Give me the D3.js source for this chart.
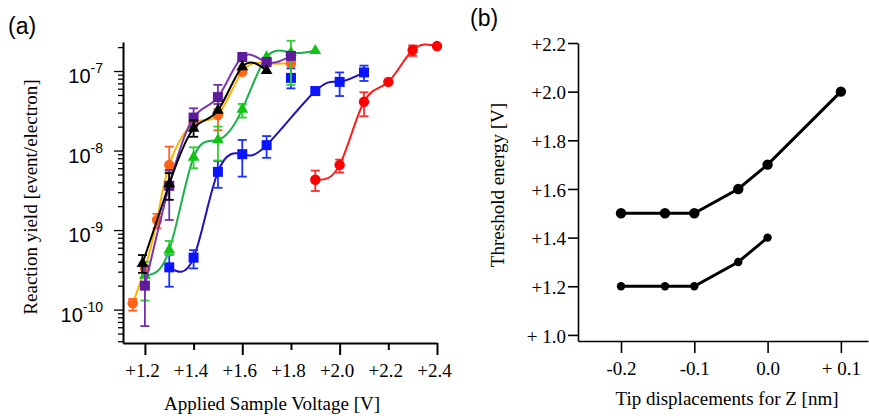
<!DOCTYPE html>
<html>
<head>
<meta charset="utf-8">
<script src="https://d3js.org/d3.v7.min.js"></script>
<style>
body { margin: 0; background: #fff; }
.serif { font-family: "Liberation Serif", "Times New Roman", serif; font-size: 19px; fill: #000; }
.sans { font-family: "Liberation Sans", Arial, sans-serif; fill: #000; }
.axis text { font-family: "Liberation Serif", "Times New Roman", serif; font-size: 19px; fill: #000; }
.axis line, .axis path { stroke: #000; }
</style>
</head>
<body>
<div id="fig"></div>
<script>
// panel (a): applied sample voltage [V] -> reaction yield [event/electron]
// lo/hi = error bar ends, null where no bar is visible
const redV  = [1.9, 2.0, 2.1, 2.2, 2.3, 2.4];
const redY  = [4.3e-9, 6.6e-9, 4.1e-8, 7.3e-8, 1.84e-7, 2.06e-7];
const redLo = [3.1e-9, 5.3e-9, 2.7e-8, null, 1.55e-7, null];
const redHi = [5.6e-9, 7.7e-9, 5.4e-8, null, 2.1e-7, null];

const blueV  = [1.3, 1.4, 1.5, 1.6, 1.7, 1.8, 1.9, 2.0, 2.1];
const blueY  = [3.4e-10, 4.5e-10, 5.4e-9, 9.0e-9, 1.17e-8, 8.2e-8, 5.6e-8, 7.3e-8, 9.6e-8];
const blueLo = [1.94e-10, 3.3e-10, 3.4e-9, 4.7e-9, 8.1e-9, 6.05e-8, null, 4.85e-8, 7.5e-8];
const blueHi = [4.9e-10, 5.6e-10, 7.4e-9, 1.36e-8, 1.52e-8, 1.08e-7, null, 9.6e-8, 1.17e-7];
const blueOnCurve = [true, true, true, true, true, false, true, true, true];

const orangeV  = [1.15, 1.2, 1.25, 1.3, 1.4, 1.5, 1.6, 1.7, 1.8];
const orangeY  = [1.2e-10, 3.3e-10, 1.34e-9, 6.6e-9, 2.2e-8, 2.8e-8, 9.8e-8, 1.25e-7, 1.25e-7];
const orangeLo = [9.7e-11, null, 1.05e-9, 5.5e-9, null, 1.8e-8, 7.1e-8, null, null];
const orangeHi = [1.36e-10, null, 1.6e-9, 1.12e-8, null, 3.3e-8, null, null, null];

const greenV  = [1.2, 1.3, 1.4, 1.5, 1.6, 1.7, 1.8, 1.9];
const greenY  = [2.7e-10, 5.6e-10, 8.2e-9, 1.36e-8, 3.3e-8, 1.5e-7, 1.7e-7, 1.8e-7];
const greenLo = [1.3e-10, 4.85e-10, 6.0e-9, 7.5e-9, 2.6e-8, null, 6.7e-8, null];
const greenHi = [4.0e-10, 7.3e-10, 1.1e-8, 2.0e-8, 3.85e-8, null, 2.4e-7, null];

const purpleV  = [1.2, 1.3, 1.4, 1.5, 1.6, 1.7, 1.8];
const purpleY  = [2.0e-10, 3.6e-9, 2.6e-8, 4.7e-8, 1.5e-7, 1.3e-7, 1.55e-7];
const purpleLo = [6.2e-11, 1.34e-9, 2.0e-8, 3.85e-8, null, null, null];
const purpleHi = [3.5e-10, 5.7e-9, 3.4e-8, 6.7e-8, null, null, null];

const blackV  = [1.19, 1.3, 1.4, 1.5, 1.6, 1.7];
const blackY  = [3.8e-10, 3.8e-9, 1.9e-8, 3.2e-8, 1.13e-7, 1.01e-7];
const blackLo = [2.9e-10, 2.4e-9, 1.49e-8, 2.35e-8, null, null];
const blackHi = [4.85e-10, 5.2e-9, 2.4e-8, null, null, null];

const voltTicks = [1.2, 1.4, 1.6, 1.8, 2.0, 2.2, 2.4];
const decades = [-10, -9, -8, -7];

// panel (b): tip displacement [nm] -> threshold energy [V]
const zUpper = [-0.2, -0.14, -0.1, -0.04, 0.0, 0.1];
const eUpper = [1.5, 1.5, 1.5, 1.6, 1.7, 2.0];
const zLower = [-0.2, -0.14, -0.1, -0.04, 0.0];
const eLower = [1.2, 1.2, 1.2, 1.3, 1.4];
const zTicks = [-0.2, -0.1, 0.0, 0.1];
const zTickLabels = ["-0.2", "-0.1", "0.0", "+ 0.1"];
const eTicks = [1.0, 1.2, 1.4, 1.6, 1.8, 2.0, 2.2];
const eTickLabels = ["+ 1.0", "+1.2", "+1.4", "+1.6", "+1.8", "+2.0", "+2.2"];

const svg = d3.select("#fig").append("svg")
  .attr("width", 869).attr("height", 416);

// ---------- panel (a) ----------
const xA = d3.scaleLinear().domain([1.11, 2.4]).range([123, 437]);
const yA = d3.scaleLog().domain([Math.pow(10, -10.42), Math.pow(10, -6.635)]).range([343, 42]);

const gA = svg.append("g");

const xAxisA = gA.append("g")
  .attr("class", "axis")
  .attr("transform", "translate(0,343)")
  .call(d3.axisBottom(xA).tickValues(voltTicks)
    .tickFormat(d => "+" + d.toFixed(1))
    .tickSize(12).tickSizeOuter(0).tickPadding(9));
xAxisA.select(".domain").attr("stroke-width", 2);
xAxisA.selectAll(".tick line").attr("stroke-width", 2)
  .attr("y2", (d, i) => i % 2 === 0 ? 12 : 7);
xAxisA.selectAll(".tick text").attr("dx", -3);

// log ticks: decades long, 2..9 short
const yMinor = [];
for (let e = -11; e <= -7; e++) {
  for (let m = 2; m <= 9; m++) {
    const v = m * Math.pow(10, e);
    if (v > yA.domain()[0] && v < yA.domain()[1]) yMinor.push(v);
  }
}
const yMajor = decades.map(e => Math.pow(10, e));

const yAxisA = gA.append("g")
  .attr("class", "axis")
  .attr("transform", "translate(123,0)")
  .call(d3.axisLeft(yA).tickValues(yMajor.concat(yMinor))
    .tickFormat("").tickSize(9).tickSizeOuter(0));
yAxisA.select(".domain").attr("stroke-width", 2);
yAxisA.selectAll(".tick line").attr("stroke-width", 1.3)
  .attr("x2", d => yMajor.includes(d) ? -9 : -5);

const decLabels = gA.selectAll(".declab")
  .data(decades).enter().append("text")
  .attr("class", "sans declab")
  .attr("x", 103)
  .attr("y", d => yA(Math.pow(10, d)) + 12)
  .attr("text-anchor", "end");
decLabels.append("tspan").attr("font-size", 20).text("10");
decLabels.append("tspan").attr("font-size", 14).attr("dy", -10)
  .text(d => String(d));

gA.append("text").attr("class", "serif")
  .attr("transform", "translate(37,197) rotate(-90)")
  .attr("text-anchor", "middle")
  .text("Reaction yield [event/electron]");

gA.append("text").attr("class", "serif")
  .attr("x", 272).attr("y", 410)
  .attr("text-anchor", "middle")
  .text("Applied Sample Voltage [V]");

gA.append("text").attr("class", "sans")
  .attr("x", 8).attr("y", 34).attr("font-size", 23)
  .text("(a)");

function pts(v, y, lo, hi) {
  return v.map((d, i) => ({v: d, y: y[i], lo: lo[i], hi: hi[i]}));
}

const series = [
  {pts: pts(redV, redY, redLo, redHi), shape: d3.symbolCircle, size: 85,
   mark: "#ff0000", line: "#ff1a1a", err: "#ff2a2a"},
  {pts: pts(blueV, blueY, blueLo, blueHi), curve: blueOnCurve, shape: d3.symbolSquare, size: 100,
   mark: "#0a14ff", line: "#2010c0", err: "#1a30ff"},
  {pts: pts(orangeV, orangeY, orangeLo, orangeHi), shape: d3.symbolCircle, size: 85,
   mark: "#ff6414", line: "#ffb400", err: "#ff6020"},
  {pts: pts(greenV, greenY, greenLo, greenHi), shape: d3.symbolTriangle, size: 60,
   mark: "#10c414", line: "#18b048", err: "#2ed02e"},
  {pts: pts(purpleV, purpleY, purpleLo, purpleHi), shape: d3.symbolSquare, size: 100,
   mark: "#5c1c9c", line: "#7a34b4", err: "#7030b0"},
  {pts: pts(blackV, blackY, blackLo, blackHi), shape: d3.symbolTriangle, size: 60,
   mark: "#000000", line: "#000000", err: "#000000"}
];

const lineA = d3.line()
  .x(d => xA(d.v))
  .y(d => yA(d.y))
  .curve(d3.curveNatural);

const capW = 4.5;

series.forEach(s => {
  const g = gA.append("g");
  const onCurve = s.curve ? s.pts.filter((d, i) => s.curve[i]) : s.pts;

  g.append("path")
    .datum(onCurve)
    .attr("fill", "none")
    .attr("stroke", s.line)
    .attr("stroke-width", 2)
    .attr("d", lineA);

  const eb = g.selectAll(".err")
    .data(s.pts.filter(d => d.lo !== null && d.hi !== null))
    .enter().append("g");
  eb.append("line")
    .attr("x1", d => xA(d.v)).attr("x2", d => xA(d.v))
    .attr("y1", d => yA(d.lo)).attr("y2", d => yA(d.hi));
  eb.append("line")
    .attr("x1", d => xA(d.v) - capW).attr("x2", d => xA(d.v) + capW)
    .attr("y1", d => yA(d.lo)).attr("y2", d => yA(d.lo));
  eb.append("line")
    .attr("x1", d => xA(d.v) - capW).attr("x2", d => xA(d.v) + capW)
    .attr("y1", d => yA(d.hi)).attr("y2", d => yA(d.hi));
  eb.selectAll("line").attr("stroke", s.err).attr("stroke-width", 1.8);

  g.selectAll(".mk")
    .data(s.pts).enter().append("path")
    .attr("transform", d => "translate(" + xA(d.v) + "," + yA(d.y) + ")")
    .attr("d", d3.symbol().type(s.shape).size(s.size))
    .attr("fill", s.mark);
});

// ---------- panel (b) ----------
const xB = d3.scaleLinear().domain([-0.2587, 0.137]).range([578, 868]);
const yB = d3.scaleLinear().domain([0.975, 2.2]).range([341, 43]);

const gB = svg.append("g");

const xAxisB = gB.append("g")
  .attr("class", "axis")
  .attr("transform", "translate(0,341)")
  .call(d3.axisBottom(xB).tickValues(zTicks)
    .tickFormat((d, i) => zTickLabels[i])
    .tickSize(12).tickSizeOuter(0).tickPadding(9));
xAxisB.selectAll("line, path").attr("stroke-width", 1.6);

const yAxisB = gB.append("g")
  .attr("class", "axis")
  .attr("transform", "translate(578,0)")
  .call(d3.axisLeft(yB).tickValues(eTicks)
    .tickFormat((d, i) => eTickLabels[i])
    .tickSize(10).tickSizeOuter(0).tickPadding(2));
yAxisB.selectAll("line, path").attr("stroke-width", 1.6);
yAxisB.selectAll(".tick text").attr("dy", "0.38em");

gB.append("text").attr("class", "serif")
  .attr("transform", "translate(504,185) rotate(-90)")
  .attr("text-anchor", "middle")
  .text("Threshold energy [V]");

gB.append("text").attr("class", "serif")
  .attr("x", 727).attr("y", 405)
  .attr("text-anchor", "middle")
  .text("Tip displacements for Z [nm]");

gB.append("text").attr("class", "sans")
  .attr("x", 470).attr("y", 26).attr("font-size", 23)
  .text("(b)");

const lineB = d3.line().x(d => xB(d[0])).y(d => yB(d[1]));

[
  {z: zUpper, e: eUpper, r: 5.2},
  {z: zLower, e: eLower, r: 4.2}
].forEach(s => {
  const data = s.z.map((z, i) => [z, s.e[i]]);
  gB.append("path").datum(data)
    .attr("fill", "none").attr("stroke", "#000")
    .attr("stroke-width", 3)
    .attr("d", lineB);
  gB.selectAll(null).data(data).enter().append("circle")
    .attr("cx", d => xB(d[0])).attr("cy", d => yB(d[1]))
    .attr("r", s.r).attr("fill", "#000");
});
</script>
</body>
</html>
